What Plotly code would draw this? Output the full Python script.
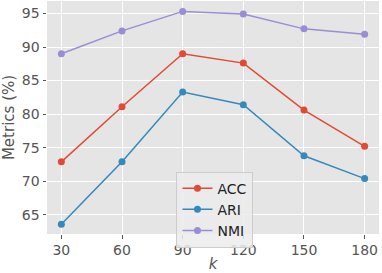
import plotly.graph_objects as go

k_values = [30, 60, 90, 120, 150, 180]
acc = [72.9, 81.1, 89.0, 87.6, 80.6, 75.2]
ari = [63.6, 72.9, 83.3, 81.4, 73.8, 70.4]
nmi = [89.0, 92.4, 95.3, 94.9, 92.7, 91.9]

series = [("ACC", acc, "#E24A33"), ("ARI", ari, "#348ABD"), ("NMI", nmi, "#988ED5")]

fig = go.Figure()
for name, vals, col in series:
    fig.add_trace(go.Scatter(x=k_values, y=vals, name=name, mode="lines+markers",
                             line=dict(color=col, width=1.5),
                             marker=dict(color=col, size=7)))

axis_common = dict(showgrid=True, gridcolor="white", gridwidth=1, zeroline=False,
                   showline=False, ticks="outside", ticklen=3.5, tickcolor="#555555",
                   automargin=False,
                   tickfont=dict(family="DejaVu Sans", size=14, color="#555555"))

fig.update_layout(
    width=382, height=273,
    margin=dict(l=47, r=3, t=1, b=39),
    paper_bgcolor="white", plot_bgcolor="#E5E5E5",
    font=dict(family="DejaVu Sans", color="#555555"),
    xaxis=dict(range=[22.9, 187.1], tickvals=k_values,
               title=dict(text="<i>k</i>", font=dict(size=15, color="#555555"), standoff=2),
               **axis_common),
    yaxis=dict(range=[62.15, 96.85], tickvals=[65, 70, 75, 80, 85, 90, 95],
               title=dict(text="Metrics (%)", font=dict(size=15, color="#555555"), standoff=4),
               **axis_common),
    legend=dict(x=0.39, y=0.268, xanchor="left", yanchor="top",
                bgcolor="rgba(236,236,236,0.85)", bordercolor="#CCCCCC", borderwidth=1,
                font=dict(family="DejaVu Sans", size=14, color="#222222"),
                itemwidth=30, tracegroupgap=0),
    showlegend=True,
    hovermode=False,
)

fig.write_html("out.html", config={"displayModeBar": False, "staticPlot": True},
               post_script="document.body.style.margin='0';document.body.style.overflow='hidden';")
